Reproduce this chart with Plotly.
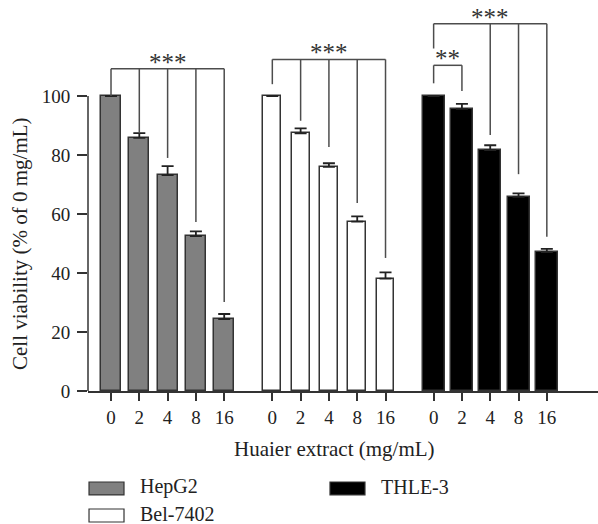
import plotly.graph_objects as go

# ---- data ----
doses = ["0", "2", "4", "8", "16"]
groups = ["HepG2", "Bel-7402", "THLE-3"]
hepg2 = [100, 85.8, 73.2, 52.5, 24.4]
hepg2_err = [0, 1.6, 3.0, 1.6, 1.7]
bel7402 = [100, 87.3, 76.0, 57.4, 38.1]
bel7402_err = [0, 1.7, 1.2, 1.8, 2.1]
thle3 = [100, 95.6, 81.7, 65.8, 47.1]
thle3_err = [0, 1.7, 1.6, 1.2, 1.1]

# significance brackets: (group index, ref dose idx, [compared dose idx], bracket level, ref drop level, [drop levels], label)
brackets = [
    (0, 0, [1, 2, 3, 4], 109.2, 100.0, [87.4, 79.0, 57.3, 30.2], "***"),
    (1, 0, [1, 2, 3, 4], 112.4, 104.0, [91.6, 82.7, 63.7, 45.1], "***"),
    (2, 0, [2, 3, 4], 124.5, 116.1, [86.8, 73.5, 52.3], "***"),
    (2, 0, [1], 110.4, 104.3, [101.7], "**"),
]

values = [hepg2, bel7402, thle3]
errors = [hepg2_err, bel7402_err, thle3_err]

# ---- styles ----
GROUP_GAP = 5.7
fills = ["#808080", "#ffffff", "#000000"]
widths = [0.70, 0.63, 0.78]
FONT = "Liberation Serif"
INK = "#222222"
LINE = "#4d4d4d"


def xpos(g, i):
    return g * GROUP_GAP + i


fig = go.Figure()
for g, name in enumerate(groups):
    fig.add_trace(go.Bar(
        x=[xpos(g, i) for i in range(len(doses))],
        y=values[g],
        width=widths[g],
        name=name,
        marker=dict(color=fills[g], line=dict(color="#333333", width=1.5)),
        error_y=dict(type="data", array=errors[g], arrayminus=[0] * len(doses),
                     symmetric=False, color=INK, thickness=1.8, width=6),
        showlegend=False,
        hoverinfo="skip",
    ))

shapes = []
annotations = []
for g, ref, comps, level, ref_drop, drops, label in brackets:
    xl = xpos(g, ref)
    xr = xpos(g, max(comps))
    shapes.append(dict(type="line", xref="x", yref="y", x0=xl, x1=xr, y0=level, y1=level,
                       line=dict(color=LINE, width=1.5)))
    shapes.append(dict(type="line", xref="x", yref="y", x0=xl, x1=xl, y0=level, y1=ref_drop,
                       line=dict(color=LINE, width=1.5)))
    for c, d in zip(comps, drops):
        shapes.append(dict(type="line", xref="x", yref="y", x0=xpos(g, c), x1=xpos(g, c),
                           y0=level, y1=d, line=dict(color=LINE, width=1.5)))
    annotations.append(dict(x=(xl + xr) / 2, y=level, xref="x", yref="y", text=label,
                            showarrow=False, yanchor="bottom", yshift=-9,
                            font=dict(family=FONT, size=25, color="#333333")))

# y axis line only from 0 to 100
shapes.append(dict(type="line", xref="paper", yref="y", x0=0, x1=0, y0=0, y1=100,
                   line=dict(color="#333333", width=1.5)))

# legend (drawn manually to match wide swatches)
legend_pos = [(0.002, -0.2388), (0.002, -0.3097), (0.4745, -0.2388)]
for g, name in enumerate(groups):
    lx, ly = legend_pos[g]
    shapes.append(dict(type="rect", xref="paper", yref="paper", x0=lx, x1=lx + 0.0686,
                       y0=ly, y1=ly - 0.0341, fillcolor=fills[g],
                       line=dict(color="#333333", width=1.2)))
    annotations.append(dict(x=lx + 0.096, y=ly - 0.012, xref="paper", yref="paper", text=name,
                            showarrow=False, xanchor="left", yanchor="middle",
                            font=dict(family=FONT, size=20, color=INK)))

# axis titles
annotations.append(dict(x=0.4833, y=-0.1522, xref="paper", yref="paper",
                        text="Huaier extract (mg/mL)", showarrow=False,
                        xanchor="center", yanchor="middle",
                        font=dict(family=FONT, size=21, color=INK)))
annotations.append(dict(x=-0.1343, y=50, xref="paper", yref="y",
                        text="Cell viability (% of 0 mg/mL)", showarrow=False, textangle=-90,
                        xanchor="center", yanchor="middle",
                        font=dict(family=FONT, size=21, color=INK)))

tickvals = [xpos(g, i) for g in range(len(groups)) for i in range(len(doses))]
ticktext = doses * len(groups)

fig.update_layout(
    width=598, height=524,
    margin=dict(l=88, r=0, t=10, b=133),
    paper_bgcolor="white", plot_bgcolor="white",
    shapes=shapes, annotations=annotations,
    xaxis=dict(range=[-0.813, 17.208], tickvals=tickvals, ticktext=ticktext,
               showline=True, linecolor="#333333", linewidth=1.5,
               ticks="outside", ticklen=8, tickwidth=1.5, tickcolor="#333333",
               showgrid=False, zeroline=False,
               tickfont=dict(family=FONT, size=19, color=INK)),
    yaxis=dict(range=[0, 129.15], tickvals=[0, 20, 40, 60, 80, 100],
               showline=False, ticks="outside", ticklen=10, tickwidth=1.5,
               tickcolor="#333333", showgrid=False, zeroline=False,
               ticklabelstandoff=3,
               tickfont=dict(family=FONT, size=19, color=INK)),
    bargap=0,
)

fig.write_html("out.html", config={"displayModeBar": False},
               post_script="document.body.style.margin='0';document.body.style.overflow='hidden';")
